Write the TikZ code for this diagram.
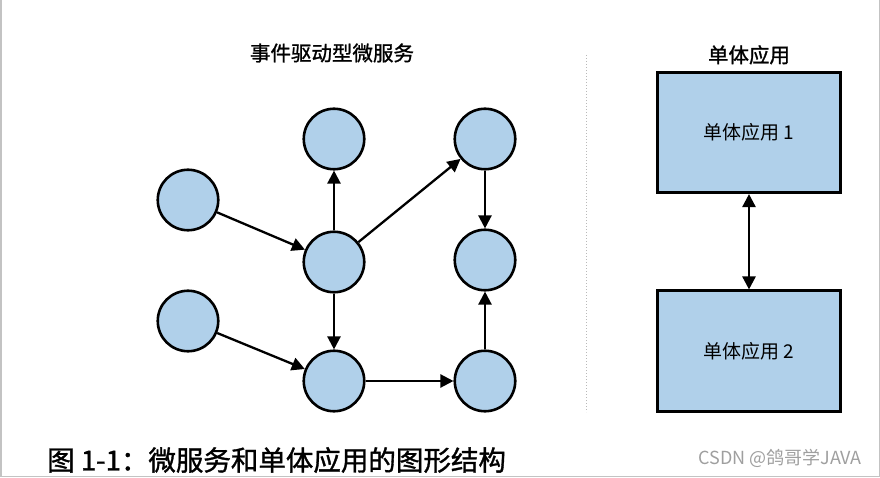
\documentclass[tikz,border=0pt]{standalone}
\usepackage{fontspec}
\newfontfamily\cjk{Noto Sans CJK SC}
\newfontfamily\cjkheavy[FakeBold=1.2]{Noto Sans CJK SC}
\usepackage{tikz}
\usetikzlibrary{arrows.meta,positioning}
\definecolor{svcblue}{RGB}{176,208,234}
\definecolor{framegray}{RGB}{195,195,195}

\begin{document}
\begin{tikzpicture}
  [x=1pt,y=1pt,
   every node/.style={font=\cjk},
   svc/.style={circle,draw,line width=2.6pt,fill=svcblue,minimum size=60.5pt,inner sep=0pt},
   app/.style={rectangle,draw,line width=2.6pt,fill=svcblue,minimum width=183.5pt,minimum height=120.5pt,font=\cjk\fontsize{19}{22}\selectfont},
   heading/.style={font=\cjkheavy\fontsize{20.5}{24}\selectfont},
   flow/.style={-{Triangle[length=13pt,width=13pt]},line width=2.3pt}]

  \useasboundingbox (0,0) rectangle (880,477);
  % frame of the screenshot
  \draw[framegray,line width=1.5pt] (0.75,477) -- (0.75,0.75) -- (879.25,0.75) -- (879.25,477);

  % event driven microservices
  \node[heading] (evtitle) at (332,424) {事件驱动型微服务};
  \node[svc] (src1) at (188,277) {};
  \node[svc] (src2) at (188,156) {};
  \node[svc] (hub) at (334,215) {};
  \node[svc] (top) at (334,338) {};
  \node[svc] (bot) at (334,96) {};
  \node[svc] (topr) at (485,338) {};
  \node[svc] (midr) at (485,217) {};
  \node[svc] (botr) at (485,96) {};

  \foreach \from/\to in {src1/hub,hub/top,hub/topr,topr/midr,hub/bot,src2/bot,bot/botr,botr/midr}
    \draw[flow] (\from) -- (\to);

  % separator
  \coordinate (septop) at (586,422);
  \coordinate (sepbot) at (586,65);
  \draw[gray!55,dotted,line width=1pt] (septop) -- (sepbot);

  % monolith
  \node[app] (app1) at (749,344.5) {单体应用 1};
  \node[app] (app2) at (749,126) {单体应用 2};
  \node[heading,above=3pt of app1] (montitle) {单体应用};
  \draw[{Triangle[length=13pt,width=13pt]}-{Triangle[length=13pt,width=13pt]},line width=2.5pt] (app1) -- (app2);

  % caption and watermark
  \node[anchor=west,inner sep=0pt,font=\cjkheavy\fontsize{27.5}{32}\selectfont] (caption) at (47,17) {图 1-1：微服务和单体应用的图形结构};
  \node[anchor=east,inner sep=0pt,text=gray!75,font=\cjk\fontsize{18}{21}\selectfont] (mark) at (862,19) {CSDN @鸽哥学JAVA};

\end{tikzpicture}
\end{document}
